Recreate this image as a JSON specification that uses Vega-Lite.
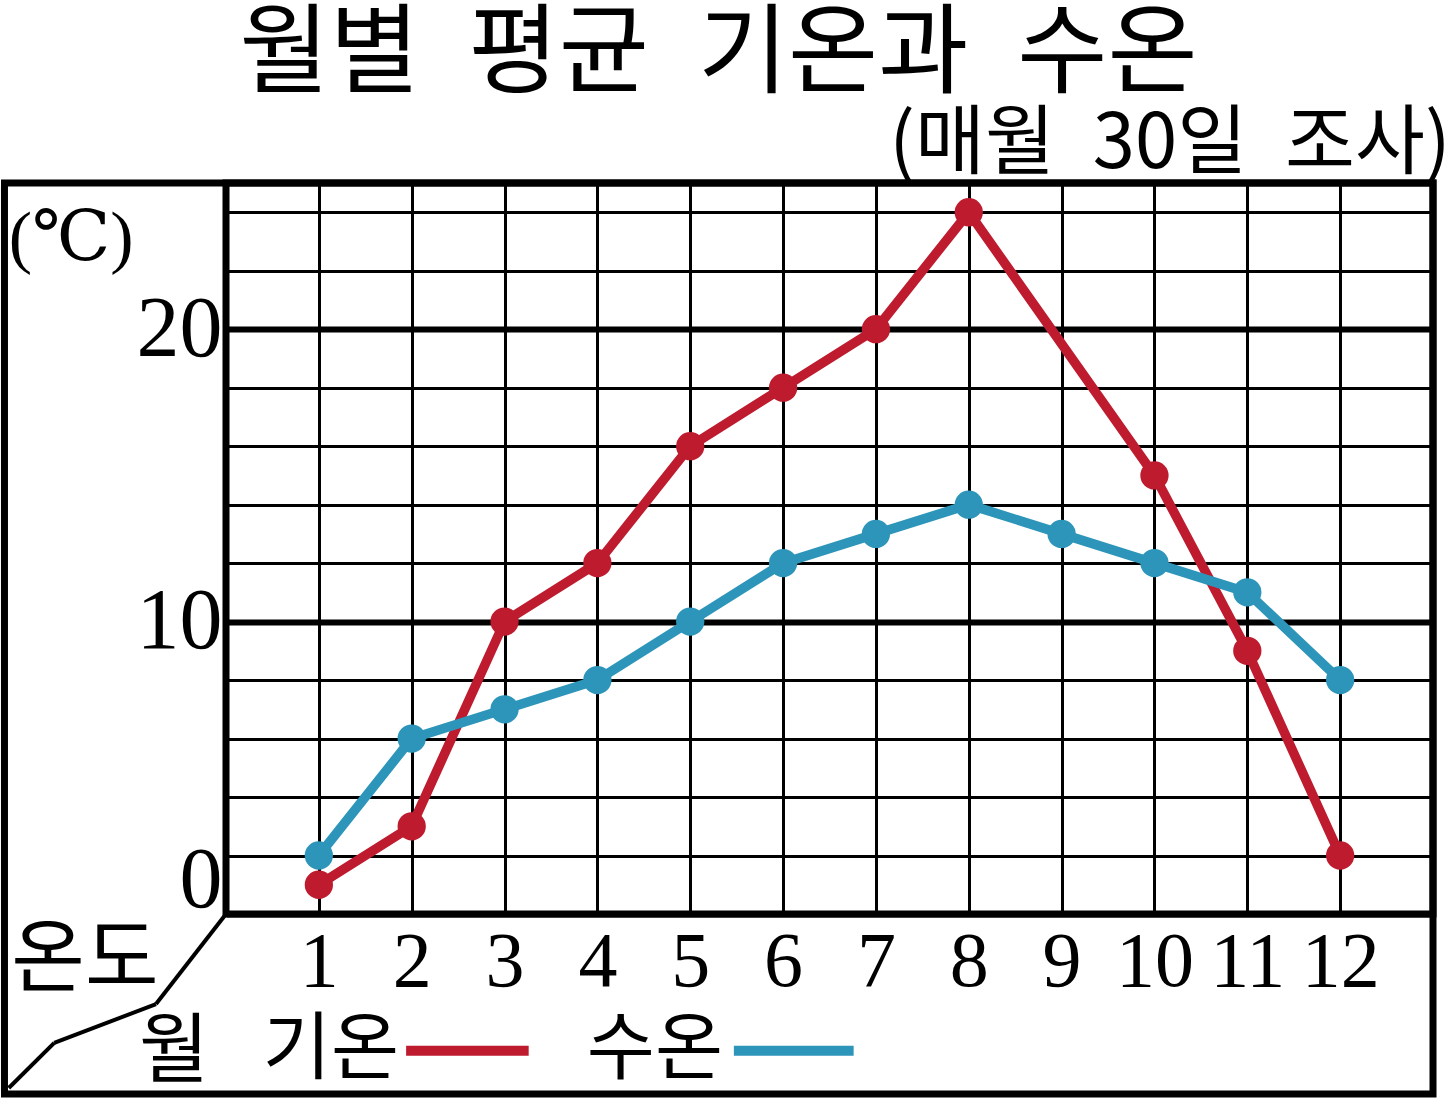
{
  "$schema": "https://vega.github.io/schema/vega-lite/v6.json",
  "width": 1207,
  "height": 731,
  "padding": {"top": 6, "left": 0, "right": 0, "bottom": 0},
  "background": "white",
  "config": {
    "view": {"stroke": "black", "strokeWidth": 7},
    "axis": {"gridColor": "black", "gridOpacity": 1, "domain": false, "ticks": false, "title": null, "labelColor": "black"}
  },
  "data": {
    "values": [
      {"month": 1, "series": "기온", "temp": 1},
      {"month": 2, "series": "기온", "temp": 3},
      {"month": 3, "series": "기온", "temp": 10},
      {"month": 4, "series": "기온", "temp": 12},
      {"month": 5, "series": "기온", "temp": 16},
      {"month": 6, "series": "기온", "temp": 18},
      {"month": 7, "series": "기온", "temp": 20},
      {"month": 8, "series": "기온", "temp": 24},
      {"month": 10, "series": "기온", "temp": 15},
      {"month": 11, "series": "기온", "temp": 9},
      {"month": 12, "series": "기온", "temp": 2},
      {"month": 1, "series": "수온", "temp": 2},
      {"month": 2, "series": "수온", "temp": 6},
      {"month": 3, "series": "수온", "temp": 7},
      {"month": 4, "series": "수온", "temp": 8},
      {"month": 5, "series": "수온", "temp": 10},
      {"month": 6, "series": "수온", "temp": 12},
      {"month": 7, "series": "수온", "temp": 13},
      {"month": 8, "series": "수온", "temp": 14},
      {"month": 9, "series": "수온", "temp": 13},
      {"month": 10, "series": "수온", "temp": 12},
      {"month": 11, "series": "수온", "temp": 11},
      {"month": 12, "series": "수온", "temp": 8}
    ]
  },
  "layer": [
    {
      "mark": {"type": "line", "strokeWidth": 9.5, "strokeJoin": "round", "point": {"filled": true, "size": 800, "opacity": 1}},
      "encoding": {
        "x": {
          "field": "month", "type": "quantitative",
          "scale": {"domain": [0, 13], "nice": false, "zero": false},
          "axis": {
            "values": [1, 2, 3, 4, 5, 6, 7, 8, 9, 10, 11, 12],
            "format": "d",
            "grid": true, "gridWidth": 3,
            "labelFont": "Liberation Serif", "labelFontSize": 78, "labelPadding": 9,
            "labelFlush": false, "labelOverlap": false
          }
        },
        "y": {
          "field": "temp", "type": "quantitative",
          "scale": {"domain": [0, 25], "nice": false},
          "axis": {
            "values": [0, 1, 2, 3, 4, 5, 6, 7, 8, 9, 10, 11, 12, 13, 14, 15, 16, 17, 18, 19, 20, 21, 22, 23, 24],
            "format": "d",
            "grid": true,
            "gridWidth": {"condition": {"test": "datum.value % 10 === 0", "value": 6}, "value": 3},
            "labelExpr": "datum.value % 10 === 0 ? datum.label : ''",
            "labelFont": "Liberation Serif", "labelFontSize": 86, "labelPadding": 4,
            "labelOffset": {"condition": {"test": "datum.value === 0", "value": -34}, "value": 0},
            "labelFlush": false, "labelOverlap": false
          }
        },
        "color": {
          "field": "series", "type": "nominal",
          "scale": {"domain": ["기온", "수온"], "range": ["#be1b2f", "#2d95b9"]},
          "legend": null
        }
      }
    },
    {
      "data": {"values": [{}]},
      "mark": {"type": "rect", "filled": false, "stroke": "black", "strokeWidth": 7},
      "encoding": {"x": {"datum": -2.386}, "x2": {"datum": 13}, "y": {"datum": -6.16}, "y2": {"datum": 25}}
    },
    {
      "data": {"values": [{}]},
      "mark": {"type": "rule", "stroke": "black", "strokeWidth": 4},
      "encoding": {"x": {"datum": -2.34}, "y": {"datum": -5.95}, "x2": {"datum": -1.85}, "y2": {"datum": -4.41}}
    },
    {
      "data": {"values": [{}]},
      "mark": {"type": "rule", "stroke": "black", "strokeWidth": 4},
      "encoding": {"x": {"datum": -1.85}, "y": {"datum": -4.41}, "x2": {"datum": -0.754}, "y2": {"datum": -3.08}}
    },
    {
      "data": {"values": [{}]},
      "mark": {"type": "rule", "stroke": "black", "strokeWidth": 4},
      "encoding": {"x": {"datum": -0.754}, "y": {"datum": -3.08}, "x2": {"datum": 0}, "y2": {"datum": 0}}
    },
    {
      "data": {"values": [{}]},
      "mark": {"type": "text", "font": "Noto Sans CJK KR", "fontSize": 98, "align": "center", "baseline": "middle", "color": "black"},
      "encoding": {"x": {"datum": 5.304}, "y": {"datum": 29.36}, "text": {"value": "월별\u2002평균\u2002기온과\u2002수온"}}
    },
    {
      "data": {"values": [{}]},
      "mark": {"type": "text", "font": "Noto Sans CJK KR", "fontSize": 76, "align": "right", "baseline": "middle", "color": "black"},
      "encoding": {"x": {"datum": 13.19}, "y": {"datum": 26.308}, "text": {"value": "(매월\u200230일\u2002조사)"}}
    },
    {
      "data": {"values": [{}]},
      "mark": {"type": "text", "font": "Liberation Serif, DejaVu Serif", "fontSize": 70, "align": "left", "baseline": "middle", "color": "black"},
      "encoding": {"x": {"datum": -2.34}, "y": {"datum": 23.1}, "text": {"value": "(℃)"}}
    },
    {
      "data": {"values": [{}]},
      "mark": {"type": "text", "font": "Noto Sans CJK KR", "fontSize": 80, "align": "center", "baseline": "middle", "color": "black"},
      "encoding": {"x": {"datum": -1.52}, "y": {"datum": -1.62}, "text": {"value": "온도"}}
    },
    {
      "data": {"values": [{}]},
      "mark": {"type": "text", "font": "Noto Sans CJK KR", "fontSize": 76, "align": "center", "baseline": "middle", "color": "black"},
      "encoding": {"x": {"datum": -0.56}, "y": {"datum": -4.75}, "text": {"value": "월"}}
    },
    {
      "data": {"values": [{}]},
      "mark": {"type": "text", "font": "Noto Sans CJK KR", "fontSize": 74, "align": "center", "baseline": "middle", "color": "black"},
      "encoding": {"x": {"datum": 1.13}, "y": {"datum": -4.68}, "text": {"value": "기온"}}
    },
    {
      "data": {"values": [{}]},
      "mark": {"type": "text", "font": "Noto Sans CJK KR", "fontSize": 74, "align": "center", "baseline": "middle", "color": "black"},
      "encoding": {"x": {"datum": 4.62}, "y": {"datum": -4.68}, "text": {"value": "수온"}}
    },
    {
      "data": {"values": [{}]},
      "mark": {"type": "rule", "strokeWidth": 10},
      "encoding": {"x": {"datum": 1.94}, "x2": {"datum": 3.26}, "y": {"datum": -4.68}, "color": {"datum": "기온"}}
    },
    {
      "data": {"values": [{}]},
      "mark": {"type": "rule", "strokeWidth": 10},
      "encoding": {"x": {"datum": 5.47}, "x2": {"datum": 6.76}, "y": {"datum": -4.68}, "color": {"datum": "수온"}}
    }
  ]
}
